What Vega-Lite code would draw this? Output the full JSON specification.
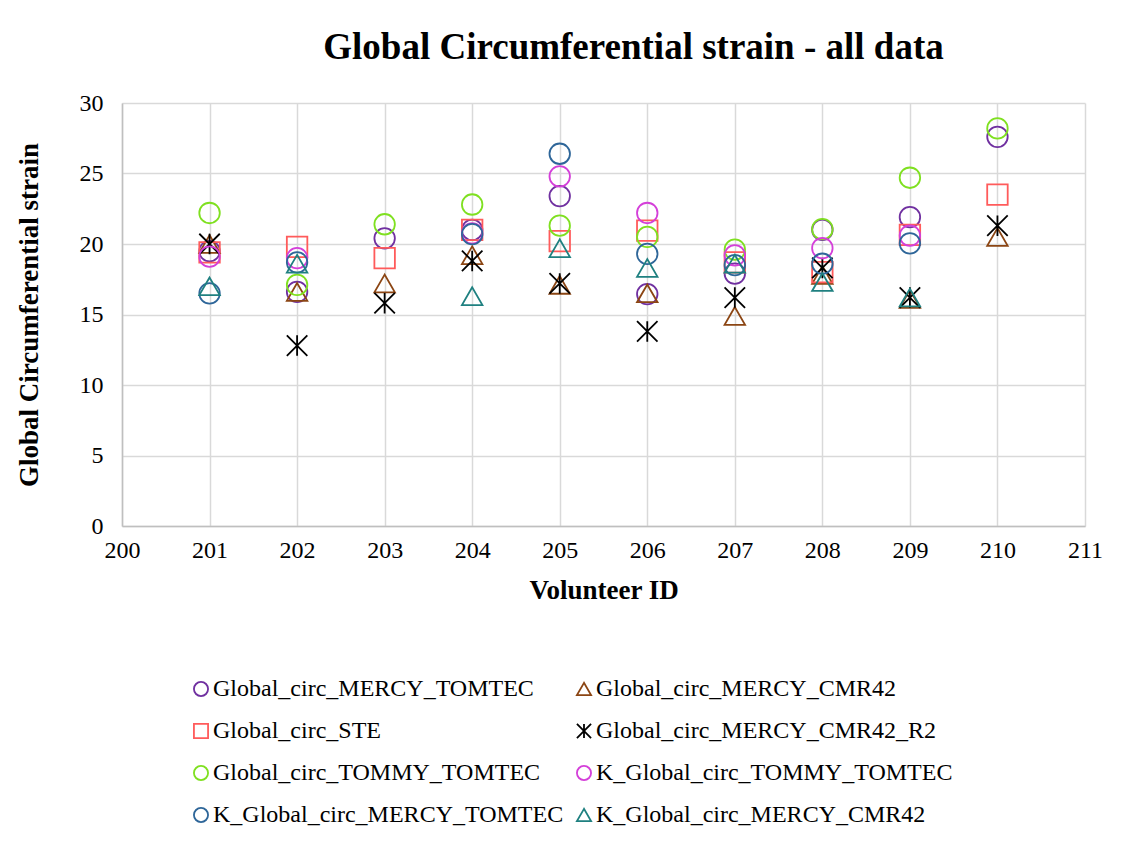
{
  "$schema": "https://vega.github.io/schema/vega-lite/v6.json",
  "width": 963,
  "height": 423,
  "autosize": "none",
  "padding": {"left": 122, "top": 103, "right": 41, "bottom": 322},
  "background": "white",
  "title": {
    "text": "Global Circumferential strain - all data",
    "font": "Liberation Serif",
    "fontSize": 37,
    "fontWeight": "bold",
    "color": "black",
    "anchor": "middle",
    "dx": 30,
    "offset": 24
  },
  "data": {
    "values": [
      {"id": 201, "series": "Global_circ_MERCY_TOMTEC", "value": 19.5},
      {"id": 202, "series": "Global_circ_MERCY_TOMTEC", "value": 16.6},
      {"id": 203, "series": "Global_circ_MERCY_TOMTEC", "value": 20.4},
      {"id": 204, "series": "Global_circ_MERCY_TOMTEC", "value": 21.0},
      {"id": 205, "series": "Global_circ_MERCY_TOMTEC", "value": 23.4},
      {"id": 206, "series": "Global_circ_MERCY_TOMTEC", "value": 16.45},
      {"id": 207, "series": "Global_circ_MERCY_TOMTEC", "value": 17.9},
      {"id": 208, "series": "Global_circ_MERCY_TOMTEC", "value": 21.0},
      {"id": 209, "series": "Global_circ_MERCY_TOMTEC", "value": 21.9},
      {"id": 210, "series": "Global_circ_MERCY_TOMTEC", "value": 27.6},
      {"id": 201, "series": "Global_circ_MERCY_CMR42", "value": 20.0},
      {"id": 202, "series": "Global_circ_MERCY_CMR42", "value": 16.6},
      {"id": 203, "series": "Global_circ_MERCY_CMR42", "value": 17.2},
      {"id": 204, "series": "Global_circ_MERCY_CMR42", "value": 19.2},
      {"id": 205, "series": "Global_circ_MERCY_CMR42", "value": 17.1},
      {"id": 206, "series": "Global_circ_MERCY_CMR42", "value": 16.5},
      {"id": 207, "series": "Global_circ_MERCY_CMR42", "value": 14.9},
      {"id": 208, "series": "Global_circ_MERCY_CMR42", "value": 17.8},
      {"id": 209, "series": "Global_circ_MERCY_CMR42", "value": 16.1},
      {"id": 210, "series": "Global_circ_MERCY_CMR42", "value": 20.5},
      {"id": 201, "series": "Global_circ_STE", "value": 19.4},
      {"id": 202, "series": "Global_circ_STE", "value": 19.8},
      {"id": 203, "series": "Global_circ_STE", "value": 19.0},
      {"id": 204, "series": "Global_circ_STE", "value": 21.0},
      {"id": 205, "series": "Global_circ_STE", "value": 20.2},
      {"id": 206, "series": "Global_circ_STE", "value": 20.95},
      {"id": 207, "series": "Global_circ_STE", "value": 18.7},
      {"id": 208, "series": "Global_circ_STE", "value": 18.0},
      {"id": 209, "series": "Global_circ_STE", "value": 20.65},
      {"id": 210, "series": "Global_circ_STE", "value": 23.5},
      {"id": 201, "series": "Global_circ_MERCY_CMR42_R2", "value": 20.0},
      {"id": 202, "series": "Global_circ_MERCY_CMR42_R2", "value": 12.8},
      {"id": 203, "series": "Global_circ_MERCY_CMR42_R2", "value": 15.8},
      {"id": 204, "series": "Global_circ_MERCY_CMR42_R2", "value": 18.8},
      {"id": 205, "series": "Global_circ_MERCY_CMR42_R2", "value": 17.2},
      {"id": 206, "series": "Global_circ_MERCY_CMR42_R2", "value": 13.8},
      {"id": 207, "series": "Global_circ_MERCY_CMR42_R2", "value": 16.2},
      {"id": 208, "series": "Global_circ_MERCY_CMR42_R2", "value": 18.3},
      {"id": 209, "series": "Global_circ_MERCY_CMR42_R2", "value": 16.2},
      {"id": 210, "series": "Global_circ_MERCY_CMR42_R2", "value": 21.3},
      {"id": 201, "series": "Global_circ_TOMMY_TOMTEC", "value": 22.2},
      {"id": 202, "series": "Global_circ_TOMMY_TOMTEC", "value": 17.1},
      {"id": 203, "series": "Global_circ_TOMMY_TOMTEC", "value": 21.4},
      {"id": 204, "series": "Global_circ_TOMMY_TOMTEC", "value": 22.8},
      {"id": 205, "series": "Global_circ_TOMMY_TOMTEC", "value": 21.3},
      {"id": 206, "series": "Global_circ_TOMMY_TOMTEC", "value": 20.5},
      {"id": 207, "series": "Global_circ_TOMMY_TOMTEC", "value": 19.6},
      {"id": 208, "series": "Global_circ_TOMMY_TOMTEC", "value": 21.05},
      {"id": 209, "series": "Global_circ_TOMMY_TOMTEC", "value": 24.7},
      {"id": 210, "series": "Global_circ_TOMMY_TOMTEC", "value": 28.2},
      {"id": 201, "series": "K_Global_circ_TOMMY_TOMTEC", "value": 19.1},
      {"id": 202, "series": "K_Global_circ_TOMMY_TOMTEC", "value": 19.0},
      {"id": 204, "series": "K_Global_circ_TOMMY_TOMTEC", "value": 20.75},
      {"id": 205, "series": "K_Global_circ_TOMMY_TOMTEC", "value": 24.8},
      {"id": 206, "series": "K_Global_circ_TOMMY_TOMTEC", "value": 22.2},
      {"id": 207, "series": "K_Global_circ_TOMMY_TOMTEC", "value": 19.2},
      {"id": 208, "series": "K_Global_circ_TOMMY_TOMTEC", "value": 19.7},
      {"id": 209, "series": "K_Global_circ_TOMMY_TOMTEC", "value": 20.6},
      {"id": 201, "series": "K_Global_circ_MERCY_TOMTEC", "value": 16.5},
      {"id": 202, "series": "K_Global_circ_MERCY_TOMTEC", "value": 18.7},
      {"id": 204, "series": "K_Global_circ_MERCY_TOMTEC", "value": 20.7},
      {"id": 205, "series": "K_Global_circ_MERCY_TOMTEC", "value": 26.4},
      {"id": 206, "series": "K_Global_circ_MERCY_TOMTEC", "value": 19.3},
      {"id": 207, "series": "K_Global_circ_MERCY_TOMTEC", "value": 18.5},
      {"id": 208, "series": "K_Global_circ_MERCY_TOMTEC", "value": 18.6},
      {"id": 209, "series": "K_Global_circ_MERCY_TOMTEC", "value": 20.05},
      {"id": 201, "series": "K_Global_circ_MERCY_CMR42", "value": 17.0},
      {"id": 202, "series": "K_Global_circ_MERCY_CMR42", "value": 18.6},
      {"id": 204, "series": "K_Global_circ_MERCY_CMR42", "value": 16.3},
      {"id": 205, "series": "K_Global_circ_MERCY_CMR42", "value": 19.7},
      {"id": 206, "series": "K_Global_circ_MERCY_CMR42", "value": 18.3},
      {"id": 207, "series": "K_Global_circ_MERCY_CMR42", "value": 18.6},
      {"id": 208, "series": "K_Global_circ_MERCY_CMR42", "value": 17.3},
      {"id": 209, "series": "K_Global_circ_MERCY_CMR42", "value": 16.2}
    ]
  },
  "mark": {"type": "point", "filled": false, "strokeWidth": 1.8, "size": 420, "opacity": 1},
  "encoding": {
    "x": {
      "field": "id",
      "type": "quantitative",
      "scale": {"domain": [200, 211], "nice": false, "zero": false},
      "axis": {
        "title": "Volunteer ID",
        "values": [200, 201, 202, 203, 204, 205, 206, 207, 208, 209, 210, 211],
        "format": "d",
        "grid": true,
        "gridColor": "#d9d9d9",
        "gridWidth": 1.5,
        "domainColor": "#bfbfbf",
        "domainWidth": 1.5,
        "ticks": false,
        "labelFont": "Liberation Serif",
        "labelFontSize": 24,
        "labelColor": "black",
        "labelPadding": 12,
        "labelFlush": false,
        "titleFont": "Liberation Serif",
        "titleFontSize": 27,
        "titleFontWeight": "bold",
        "titleColor": "black",
        "titlePadding": 15
      }
    },
    "y": {
      "field": "value",
      "type": "quantitative",
      "scale": {"domain": [0, 30], "nice": false},
      "axis": {
        "title": "Global Circumferential strain",
        "values": [0, 5, 10, 15, 20, 25, 30],
        "grid": true,
        "gridColor": "#d9d9d9",
        "gridWidth": 1.5,
        "domainColor": "#bfbfbf",
        "domainWidth": 1.5,
        "ticks": false,
        "labelFont": "Liberation Serif",
        "labelFontSize": 24,
        "labelColor": "black",
        "labelPadding": 19,
        "labelFlush": false,
        "titleFont": "Liberation Serif",
        "titleFontSize": 27,
        "titleFontWeight": "bold",
        "titleColor": "black",
        "titlePadding": 36
      }
    },
    "color": {
      "field": "series",
      "type": "nominal",
      "scale": {
        "domain": ["Global_circ_MERCY_TOMTEC", "Global_circ_MERCY_CMR42", "Global_circ_STE", "Global_circ_MERCY_CMR42_R2", "Global_circ_TOMMY_TOMTEC", "K_Global_circ_TOMMY_TOMTEC", "K_Global_circ_MERCY_TOMTEC", "K_Global_circ_MERCY_CMR42"],
        "range": ["#7030a0", "#8b4513", "#ff5b5b", "#000000", "#7fe020", "#d43fd9", "#2e6699", "#1f8080"]
      },
      "legend": {
        "title": null,
        "orient": "none",
        "direction": "horizontal",
        "legendX": 67,
        "legendY": 574,
        "columns": 2,
        "columnPadding": 8,
        "rowPadding": 18,
        "labelFont": "Liberation Serif",
        "labelFontSize": 24,
        "labelColor": "black",
        "labelOffset": 0,
        "labelLimit": 500,
        "symbolSize": 200,
        "symbolStrokeWidth": 1.8
      }
    },
    "shape": {
      "field": "series",
      "type": "nominal",
      "scale": {
        "domain": ["Global_circ_MERCY_TOMTEC", "Global_circ_MERCY_CMR42", "Global_circ_STE", "Global_circ_MERCY_CMR42_R2", "Global_circ_TOMMY_TOMTEC", "K_Global_circ_TOMMY_TOMTEC", "K_Global_circ_MERCY_TOMTEC", "K_Global_circ_MERCY_CMR42"],
        "range": ["circle", "triangle-up", "square", "M-1,-1L1,1M1,-1L-1,1M0,-1L0,1", "circle", "circle", "circle", "triangle-up"]
      }
    }
  },
  "config": {
    "view": {"stroke": null}
  }
}
